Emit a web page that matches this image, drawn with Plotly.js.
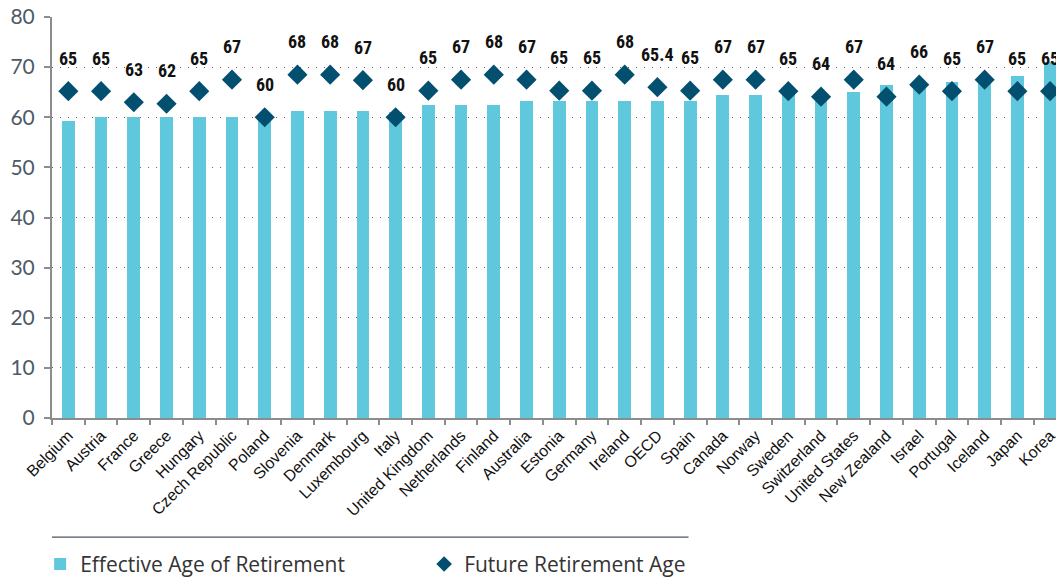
<!DOCTYPE html>
<html>
<head>
<meta charset="utf-8">
<script src="https://cdn.plot.ly/plotly-3.0.1.min.js"></script>
<style>html,body{margin:0;padding:0;background:#fff;}#chart{width:1056px;height:577px;}</style>
</head>
<body>
<div id="chart"></div>
<script>
const countries = ["Belgium","Austria","France","Greece","Hungary","Czech Republic","Poland","Slovenia","Denmark","Luxembourg","Italy","United Kingdom","Netherlands","Finland","Australia","Estonia","Germany","Ireland","OECD","Spain","Canada","Norway","Sweden","Switzerland","United States","New Zealand","Israel","Portugal","Iceland","Japan","Korea"];
const effectiveAge = [59.2,60.0,60.0,60.0,60.0,60.0,60.6,61.2,61.2,61.2,61.0,62.4,62.4,62.4,63.2,63.2,63.2,63.2,63.2,63.2,64.4,64.4,65.5,64.8,65.0,66.4,66.6,67.1,67.8,68.3,71.0];
const futureAge = [65.2,65.2,63.0,62.7,65.2,67.5,60.0,68.5,68.5,67.4,60.0,65.3,67.5,68.5,67.5,65.3,65.3,68.5,66.0,65.3,67.5,67.5,65.2,64.1,67.5,64.1,66.5,65.2,67.5,65.2,65.2];
const futureLabels = ["65","65","63","62","65","67","60","68","68","67","60","65","67","68","67","65","65","68","65.4","65","67","67","65","64","67","64","66","65","67","65","65"];
const yTicks = [0,10,20,30,40,50,60,70,80];

const barTrace = {
  type: "bar",
  name: "Effective Age of Retirement",
  x: countries,
  y: effectiveAge,
  width: 0.39,
  marker: {color: "#5fc8dc"},
  hoverinfo: "x+y"
};
const diamondTrace = {
  type: "scatter",
  mode: "markers",
  name: "Future Retirement Age",
  x: countries,
  y: futureAge,
  cliponaxis: false,
  marker: {symbol: "diamond", size: 15.5, color: "#034f70"},
  hoverinfo: "x+y"
};

const annotations = countries.map((c, i) => ({
  x: c, y: futureAge[i], xref: "x", yref: "y",
  text: futureLabels[i], showarrow: false,
  yshift: 33, yanchor: "middle",
  font: {family: "Liberation Sans Narrow, Arial Narrow, Roboto Condensed, sans-serif", size: 18, color: "#111", weight: "bold"}
}));

const layout = {
  width: 1056, height: 577,
  margin: {l: 52, r: 0, t: 17, b: 159, pad: 0},
  paper_bgcolor: "#ffffff", plot_bgcolor: "#ffffff",
  showlegend: true,
  bargap: 0,
  xaxis: {
    type: "category",
    range: [-0.5, 30.18],
    tickangle: -45,
    tickson: "boundaries",
    ticks: "outside", ticklen: 5, tickwidth: 2, tickcolor: "#8c8c8c",
    showline: true, linecolor: "#8c8c8c", linewidth: 2,
    showgrid: false,
    tickfont: {family: "Liberation Sans, Arial, sans-serif", size: 16, color: "#111"},
    fixedrange: true
  },
  yaxis: {
    range: [0, 80],
    tickvals: yTicks,
    ticktext: yTicks.map(String),
    ticks: "outside", ticklen: 6, tickwidth: 2, tickcolor: "#8c8c8c",
    showline: true, linecolor: "#8c8c8c", linewidth: 2,
    showgrid: true, gridcolor: "#666666", gridwidth: 1, griddash: "1px,7px",
    zeroline: false,
    ticklabelstandoff: 5,
    tickfont: {family: "Lato, Open Sans, sans-serif", size: 21, color: "#4d5a66"},
    fixedrange: true
  },
  legend: {
    orientation: "h",
    xref: "container", yref: "container",
    x: 0.038, y: 0.022, xanchor: "left", yanchor: "middle",
    entrywidth: 339,
    bgcolor: "rgba(0,0,0,0)",
    font: {family: "Open Sans, sans-serif", size: 21, color: "#333"},
    itemsizing: "constant",
    traceorder: "normal"
  },
  shapes: [{
    type: "line", xref: "paper", yref: "paper",
    x0: 0, x1: 0.634, y0: -0.297, y1: -0.297,
    line: {color: "#4a5560", width: 1.2}
  }],
  annotations: annotations
};

Plotly.newPlot("chart", [barTrace, diamondTrace], layout, {displayModeBar: false, staticPlot: true});
</script>
</body>
</html>
